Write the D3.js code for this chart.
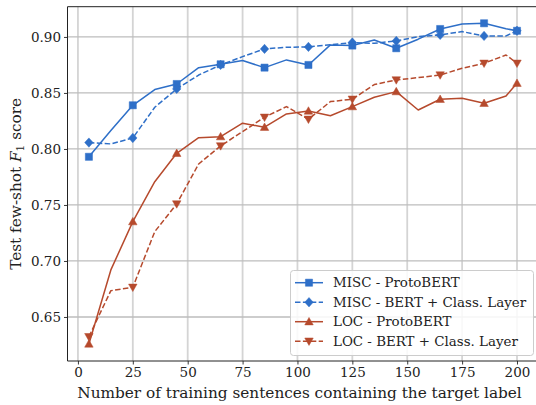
<!DOCTYPE html>
<html>
<head>
<meta charset="utf-8">
<script src="https://cdn.jsdelivr.net/npm/d3@7"></script>
<style>
  html, body { margin: 0; padding: 0; background: #fff; }
  svg { display: block; }
  text { font-family: "DejaVu Serif", serif; fill: #222; }
</style>
</head>
<body>
<svg id="chart" width="536" height="405"></svg>
<script>
// ---- data ----
const xValues = [5, 15, 25, 35, 45, 55, 65, 75, 85, 95, 105, 115, 125, 135, 145, 155, 165, 175, 185, 195, 200];
const miscProto = [0.793, 0.8165, 0.839, 0.853, 0.858, 0.8726, 0.8756, 0.8789, 0.8726, 0.8795, 0.875, 0.8929, 0.8923, 0.8973, 0.8899, 0.898, 0.9071, 0.9116, 0.9122, 0.9073, 0.9055];
const miscBert = [0.8057, 0.8045, 0.8098, 0.8372, 0.8536, 0.866, 0.875, 0.8824, 0.8893, 0.8908, 0.8911, 0.893, 0.895, 0.8943, 0.8964, 0.9003, 0.9018, 0.9048, 0.9009, 0.9009, 0.9055];
const locProto = [0.6259, 0.692, 0.7351, 0.7708, 0.7961, 0.8101, 0.811, 0.823, 0.8194, 0.8313, 0.8339, 0.8297, 0.8378, 0.8462, 0.8512, 0.8348, 0.8444, 0.8453, 0.8408, 0.8473, 0.8587];
const locBert = [0.6324, 0.6735, 0.6765, 0.7262, 0.7509, 0.7866, 0.8027, 0.8155, 0.8283, 0.8378, 0.8265, 0.8423, 0.8444, 0.8575, 0.8616, 0.8637, 0.866, 0.872, 0.8765, 0.8839, 0.8765];
const seriesNames = ["MISC - ProtoBERT", "MISC - BERT + Class. Layer", "LOC - ProtoBERT", "LOC - BERT + Class. Layer"];
const xTicks = [0, 25, 50, 75, 100, 125, 150, 175, 200];
const yTicks = [0.65, 0.70, 0.75, 0.80, 0.85, 0.90];
const xLabel = "Number of training sentences containing the target label";

// ---- style ----
const blue = "#2e6fc8";
const red = "#b64a2d";
const series = [
  { name: seriesNames[0], values: miscProto, color: blue, dash: null, marker: "square" },
  { name: seriesNames[1], values: miscBert, color: blue, dash: "5.5,2.4", marker: "diamond" },
  { name: seriesNames[2], values: locProto, color: red, dash: null, marker: "triUp" },
  { name: seriesNames[3], values: locBert, color: red, dash: "5.5,2.4", marker: "triDown" }
];
const markerIdx = [0, 2, 4, 6, 8, 10, 12, 14, 16, 18, 20];

const svg = d3.select("#chart");
const pL = 67.5, pR = 538.4, pT = 6.7, pB = 361;

const x = d3.scaleLinear().domain([-4.75, 209.75]).range([pL, pR]);
const y = d3.scaleLinear().domain([0.6107, 0.927]).range([pB, pT]);

// grid
const g = svg.append("g");
g.selectAll("line.vg").data(xTicks).enter().append("line")
  .attr("x1", d => x(d)).attr("x2", d => x(d)).attr("y1", pT).attr("y2", pB)
  .attr("stroke", "#d4d4d4").attr("stroke-width", 1.8);
g.selectAll("line.hg").data(yTicks).enter().append("line")
  .attr("x1", pL).attr("x2", pR).attr("y1", d => y(d)).attr("y2", d => y(d))
  .attr("stroke", "#bdbdbd").attr("stroke-width", 1.3);

// axes
const xAxis = d3.axisBottom(x).tickValues(xTicks).tickSize(3.5).tickPadding(3).tickFormat(d3.format("d"));
const yAxis = d3.axisLeft(y).tickValues(yTicks).tickSize(3.5).tickPadding(3).tickFormat(d3.format(".2f"));
const gx = svg.append("g").attr("transform", `translate(0,${pB})`).call(xAxis);
const gy = svg.append("g").attr("transform", `translate(${pL},0)`).call(yAxis);
[gx, gy].forEach(a => {
  a.select(".domain").remove();
  a.selectAll(".tick line").attr("stroke", "#222").attr("stroke-width", 0.9);
  a.selectAll(".tick text").style("font-family", "DejaVu Serif, serif").style("font-size", "13.5px").attr("fill", "#222");
});
// spines
svg.append("line").attr("x1", pL).attr("x2", pL).attr("y1", pT).attr("y2", pB).attr("stroke", "#222").attr("stroke-width", 1);
svg.append("line").attr("x1", pL).attr("x2", pR).attr("y1", pB).attr("y2", pB).attr("stroke", "#222").attr("stroke-width", 1);
svg.append("line").attr("x1", pL).attr("x2", pR).attr("y1", pT).attr("y2", pT).attr("stroke", "#222").attr("stroke-width", 1);

// markers
function markerPath(type, s) {
  if (type === "square") { const h = s * 0.42; return `M${-h},${-h}H${h}V${h}H${-h}Z`; }
  if (type === "diamond") { const h = s * 0.55; return `M0,${-h}L${h * 0.9},0L0,${h}L${-h * 0.9},0Z`; }
  if (type === "triUp") { const h = s * 0.5; return `M0,${-h}L${h},${h * 0.75}L${-h},${h * 0.75}Z`; }
  const h = s * 0.5; return `M0,${h}L${h},${-h * 0.75}L${-h},${-h * 0.75}Z`;
}

const line = d3.line().x((d, i) => x(xValues[i])).y(d => y(d));
series.forEach(s => {
  svg.append("path").datum(s.values).attr("d", line)
    .attr("fill", "none").attr("stroke", s.color).attr("stroke-width", 1.5)
    .attr("stroke-dasharray", s.dash).attr("stroke-linejoin", "round");
  svg.append("g").selectAll("path").data(markerIdx).enter().append("path")
    .attr("d", markerPath(s.marker, 8.5))
    .attr("transform", i => `translate(${x(xValues[i])},${y(s.values[i])})`)
    .attr("fill", s.color).attr("stroke", s.color).attr("stroke-width", 0.5);
});

// axis labels
svg.append("text").attr("x", 299.5).attr("y", 398)
  .attr("text-anchor", "middle").style("font-size", "15.3px").text(xLabel);
const yl = svg.append("text").attr("transform", `translate(21,${(pT + pB) / 2}) rotate(-90)`)
  .attr("text-anchor", "middle").style("font-size", "15.3px");
yl.append("tspan").text("Test few-shot ");
yl.append("tspan").style("font-style", "italic").text("F");
yl.append("tspan").attr("dy", 3).style("font-size", "10.5px").text("1");
yl.append("tspan").attr("dy", -3).text(" score");

// legend
const lg = svg.append("g");
lg.append("rect").attr("x", 290.5).attr("y", 270.5).attr("width", 243).attr("height", 85).attr("rx", 3)
  .attr("fill", "#fff").attr("fill-opacity", 0.85).attr("stroke", "#cccccc").attr("stroke-width", 1);
series.forEach((s, k) => {
  const yy = 282.7 + k * 19.5;
  lg.append("line").attr("x1", 295).attr("x2", 323).attr("y1", yy).attr("y2", yy)
    .attr("stroke", s.color).attr("stroke-width", 1.5).attr("stroke-dasharray", s.dash);
  lg.append("path").attr("d", markerPath(s.marker, 8.5)).attr("transform", `translate(309,${yy})`)
    .attr("fill", s.color).attr("stroke", s.color).attr("stroke-width", 0.5);
  lg.append("text").attr("x", 333).attr("y", yy).attr("dy", "0.35em").style("font-size", "13.4px").text(s.name);
});
</script>
</body>
</html>
